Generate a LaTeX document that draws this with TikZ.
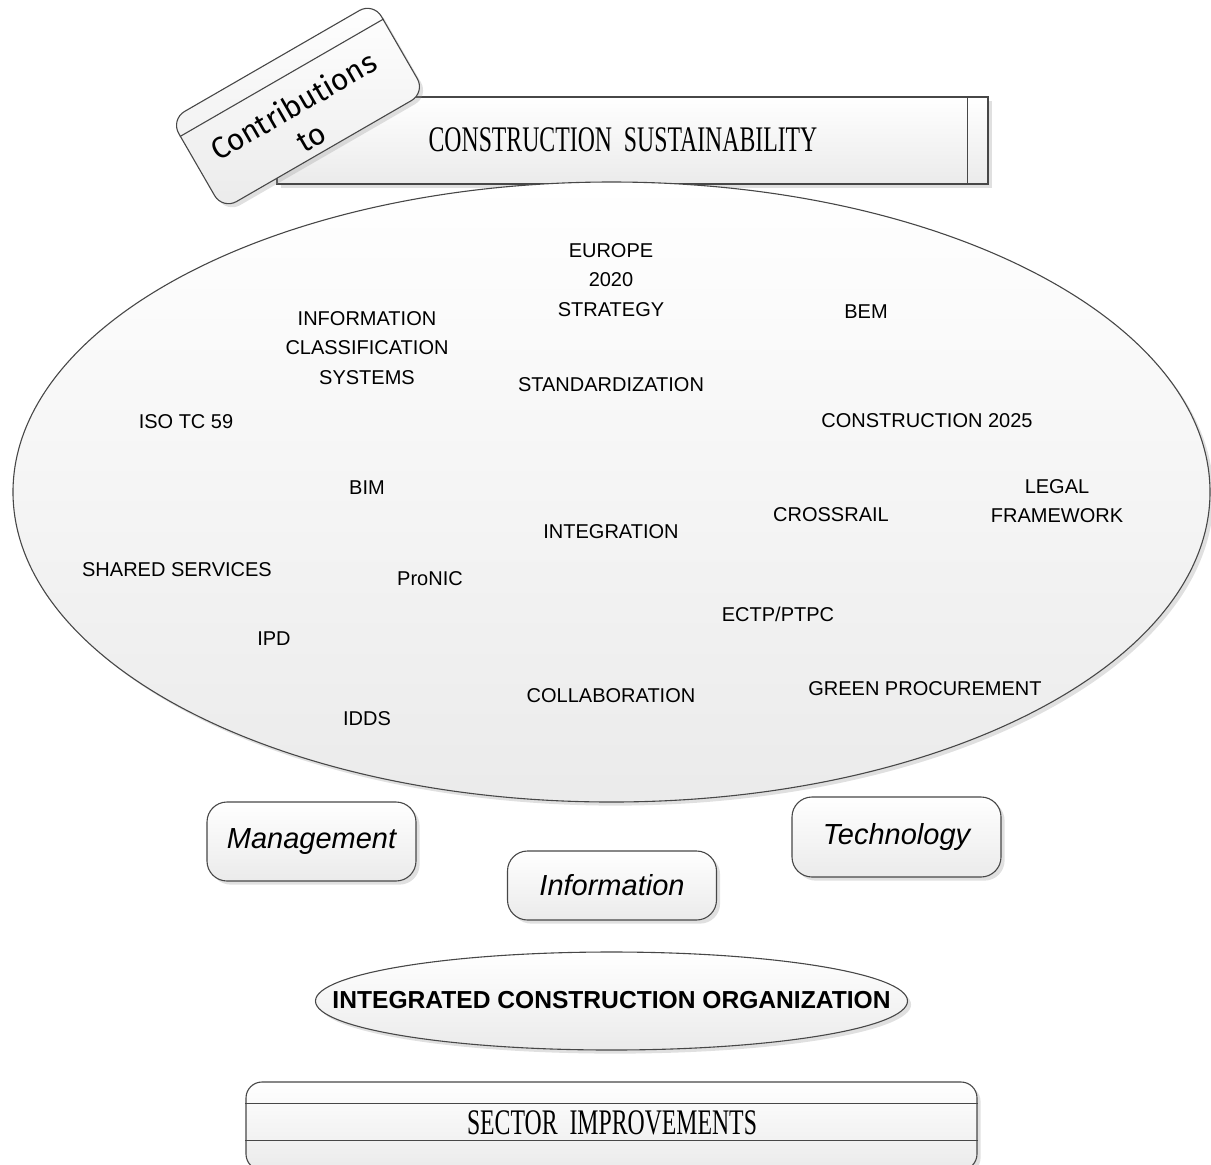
\documentclass[tikz,border=0pt]{standalone}
\usepackage{fontspec}
\setmainfont{Liberation Sans}
\newfontfamily\bannerfont[FakeStretch=0.66]{Liberation Serif}
\newfontfamily\tagfont{Fira Sans}
\usetikzlibrary{shapes.geometric,shadows,calc}

\tikzset{
  outline/.style={draw=black!72, line width=0.55pt},
  softfill/.style={top color=white, bottom color=black!8},
  softshadow/.style={drop shadow={shadow xshift=1.8pt, shadow yshift=-1.8pt, fill=black!40, opacity=0.3}},
  term/.style={font=\fontsize{10}{14.75}\selectfont, align=center, inner sep=0pt},
  pillar/.style={outline, softfill, softshadow, rounded corners=10pt,
    minimum width=104.5pt, inner sep=0pt, font=\fontsize{14.5}{17}\selectfont\itshape},
  bannerbox/.style={outline, softfill, softshadow, inner sep=0pt},
  bannertext/.style={font=\fontsize{18}{20}\bannerfont, inner sep=0pt},
}

\begin{document}
\begin{tikzpicture}[x=0.5pt, y=-0.5pt]
  \useasboundingbox (0,0) rectangle (1211,1164);

  % title banner
  \node[bannerbox, minimum width=355.5pt, minimum height=43.5pt] (title) at (632.5,140.5) {};
  \draw[outline] ($(title.north east)+(-21,0)$) -- ($(title.south east)+(-21,0)$);
  \node[bannertext] (titletext) at (623,140) {CONSTRUCTION\ \ SUSTAINABILITY};

  % tilted tag with a band along its upper edge
  \node[outline, softfill, softshadow, rotate=30, rounded corners=8pt,
        minimum width=117pt, minimum height=52pt, inner sep=0pt] (tag) at (298,106) {};
  \draw[outline] ($(tag.north west)!0.19!(tag.south west)$) -- ($(tag.north east)!0.19!(tag.south east)$);
  \node[rotate=30, align=center, inner sep=0pt, font=\fontsize{15}{18}\tagfont] (tagtext) at (302,121) {Contributions\\to};

  % main field of initiatives
  \node[ellipse, outline, softfill, softshadow, minimum width=598.5pt, minimum height=310pt, inner sep=0pt] (field) at (611.5,492) {};

  \node[term] (europe)  at (611,280) {EUROPE\\2020\\STRATEGY};
  \node[term] (bem)     at (866,312) {BEM};
  \node[term] (ics)     at (367,348) {INFORMATION\\CLASSIFICATION\\SYSTEMS};
  \node[term] (std)     at (611,385) {STANDARDIZATION};
  \node[term] (iso)     at (186,422) {ISO TC 59};
  \node[term] (c2025)   at (927,421) {CONSTRUCTION 2025};
  \node[term] (bim)     at (367,488) {BIM};
  \node[term] (legal)   at (1057,501) {LEGAL\\FRAMEWORK};
  \node[term] (cross)   at (831,515) {CROSSRAIL};
  \node[term] (integ)   at (611,532) {INTEGRATION};
  \node[term] (shared)  at (177,570) {SHARED SERVICES};
  \node[term] (pronic)  at (430,579) {ProNIC};
  \node[term] (ectp)    at (778,614) {ECTP/PTPC};
  \node[term] (ipd)     at (274,639) {IPD};
  \node[term] (green)   at (925,689) {GREEN PROCUREMENT};
  \node[term] (collab)  at (611,696) {COLLABORATION};
  \node[term] (idds)    at (367,719) {IDDS};

  % three pillars
  \node[pillar, minimum height=39.5pt] (mgmt) at (311.5,841.5) {Management};
  \node[pillar, minimum height=40pt]   (tech) at (896.5,837)   {Technology};
  \node[pillar, minimum height=34.5pt] (info) at (612,885.5)   {Information};

  % organisation
  \node[ellipse, outline, softfill, softshadow, minimum width=296pt, minimum height=49pt, inner sep=0pt] (orgshape) at (611.5,1001) {};
  \node[inner sep=0pt, font=\fontsize{12.3}{14}\selectfont\bfseries] (org) at (611.5,1000) {INTEGRATED CONSTRUCTION ORGANIZATION};

  % sector banner
  \node[bannerbox, rounded corners=8pt, minimum width=365.5pt, minimum height=44pt] (sector) at (611.5,1126) {};
  \draw[outline] ($(sector.north west)+(0,22)$) -- ($(sector.north east)+(0,22)$);
  \draw[outline] ($(sector.north west)+(0,59)$) -- ($(sector.north east)+(0,59)$);
  \node[bannertext] (sectortext) at (612,1123) {SECTOR\ \ IMPROVEMENTS};
\end{tikzpicture}
\end{document}
